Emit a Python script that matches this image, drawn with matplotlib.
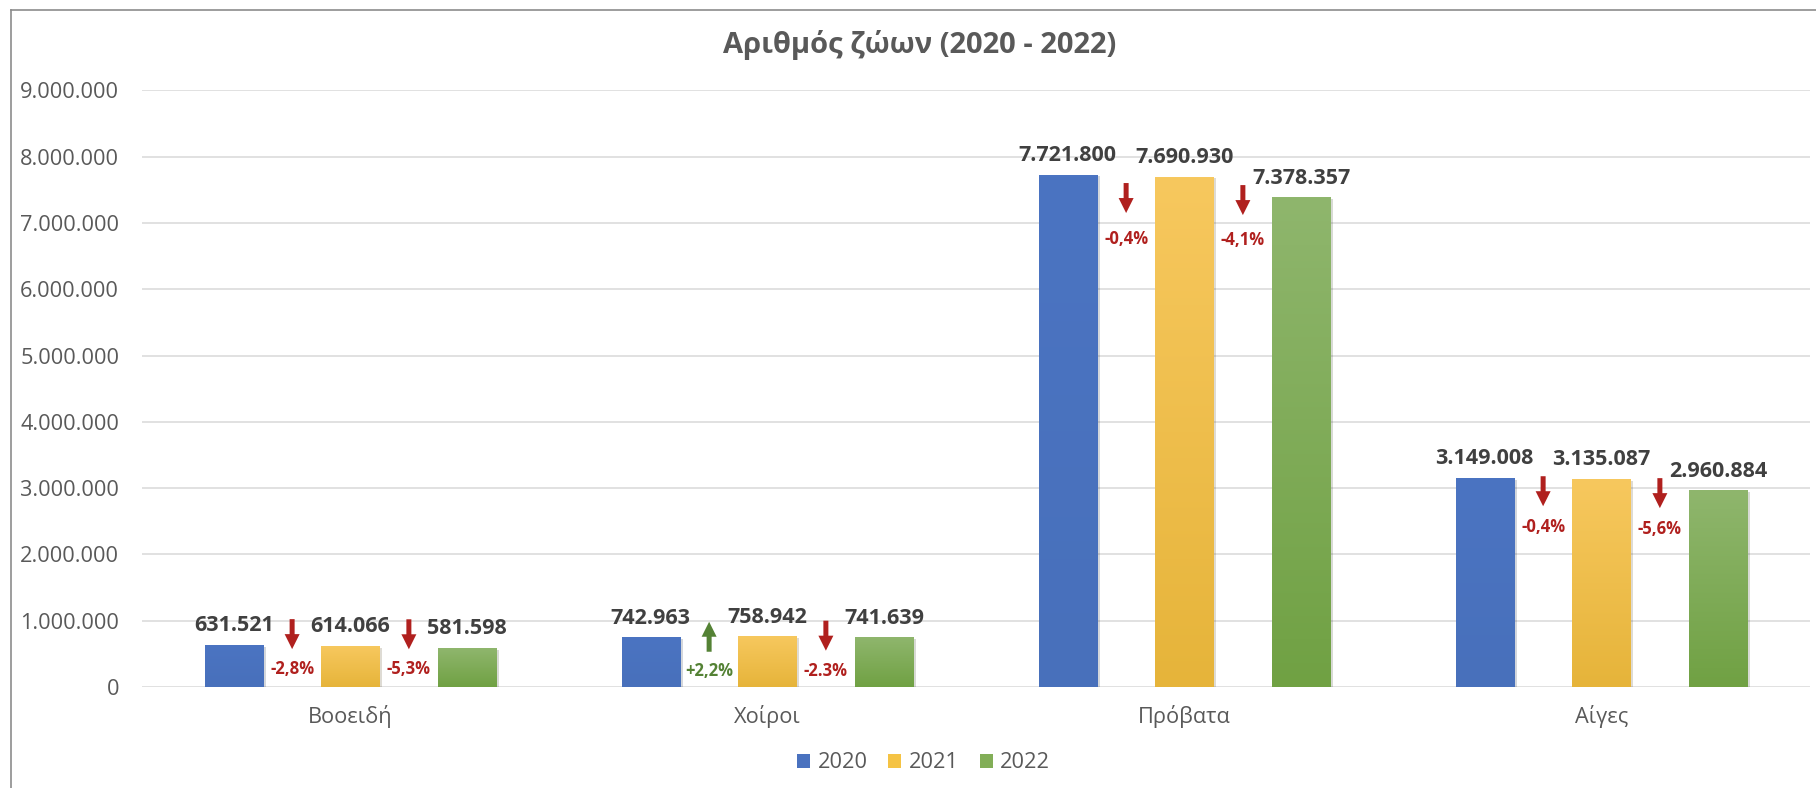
import numpy as np
import matplotlib
matplotlib.use("Agg")
import matplotlib.pyplot as plt
import matplotlib.patheffects as pe
from matplotlib.colors import LinearSegmentedColormap
from matplotlib.lines import Line2D
from matplotlib.patches import Patch
from matplotlib.transforms import offset_copy

plt.rcParams['font.family'] = ['Open Sans', 'DejaVu Sans']

# ----------------------------------------------------------------------
# data
# ----------------------------------------------------------------------
categories = ['Βοοειδή', 'Χοίροι', 'Πρόβατα', 'Αίγες']
years = ['2020', '2021', '2022']
v2020 = [631521, 742963, 7721800, 3149008]
v2021 = [614066, 758942, 7690930, 3135087]
v2022 = [581598, 741639, 7378357, 2960884]
# year-on-year changes as written on the chart
pct_2021 = ['-2,8%', '+2,2%', '-0,4%', '-0,4%']
pct_2022 = ['-5,3%', '-2.3%', '-4,1%', '-5,6%']

# hand placed annotation offsets (pixels below the earlier bar's top)
arrow_top_21 = [-26, -16, 8, -2]
arrow_top_22 = [-27, -16, 8, -1]
pct_off_21 = [23, 32, 63, 48]
pct_off_22 = [22, 33, 62, 49]

# ----------------------------------------------------------------------
# style
# ----------------------------------------------------------------------
TXT = '#595959'
LBL = '#404040'
GRID = '#D9D9D9'
RED = '#B0201E'
GREEN = '#548235'
bar_cols = ['#4A72BF', '#F5C344', '#82AE57']
grad_cols = [('#4B74C2', '#4870BB'), ('#F7C85E', '#E6B43A'), ('#8FB66D', '#70A143')]

W, H, DPI = 1816, 788, 100
fig = plt.figure(figsize=(W / DPI, H / DPI), dpi=DPI)
ax = fig.add_axes([142 / W, (H - 687) / H, (1810 - 142) / W, (687 - 90.3) / H])

x = np.arange(len(categories))
offs = [-0.28, 0.0, 0.28]
width = 0.14
series = [v2020, v2021, v2022]

for i, vals in enumerate(series):
    bars = ax.bar(x + offs[i], vals, width, color=bar_cols[i], zorder=3,
                  label=years[i],
                  path_effects=[pe.SimplePatchShadow(offset=(2, -1), alpha=0.18),
                                pe.Normal()])
    cmap = LinearSegmentedColormap.from_list('g%d' % i, [grad_cols[i][1], grad_cols[i][0]])
    for b in bars:
        x0 = b.get_x()
        h = b.get_height()
        grad = np.linspace(0, 1, 256).reshape(-1, 1)
        ax.imshow(grad, extent=(x0, x0 + width, 0, h), origin='lower',
                  aspect='auto', cmap=cmap, zorder=4)
    for xi, v in zip(x + offs[i], vals):
        ax.annotate(f"{v:,}".replace(',', '.'), (xi, v), xytext=(0, 14),
                    textcoords='offset pixels', ha='center', va='baseline',
                    fontsize=15.5, fontweight='bold', color=LBL, zorder=6)


# arrows + percentage change between neighbouring bars
def change_mark(xm, base, label, top, pct_off):
    col = GREEN if label.startswith('+') else RED
    t_top = offset_copy(ax.transData, fig=fig, x=0, y=-top, units='dots')
    t_bot = offset_copy(ax.transData, fig=fig, x=0, y=-(top + 30), units='dots')
    if label.startswith('+'):
        tip, tail = t_top, t_bot
    else:
        tip, tail = t_bot, t_top
    ax.annotate('', xy=(xm, base), xycoords=tip, xytext=(xm, base), textcoords=tail,
                arrowprops=dict(arrowstyle='simple,head_length=1.08,head_width=1.08,tail_width=0.36',
                                mutation_scale=10, shrinkA=0, shrinkB=0, color=col, lw=0),
                zorder=6)
    ax.annotate(label, (xm, base), xytext=(0, -(pct_off + 6)), textcoords='offset pixels',
                ha='center', va='baseline', fontsize=12, fontweight='bold', color=col,
                zorder=6)


for k in range(len(categories)):
    change_mark(x[k] + (offs[0] + offs[1]) / 2, v2020[k], pct_2021[k],
                arrow_top_21[k], pct_off_21[k])
    change_mark(x[k] + (offs[1] + offs[2]) / 2, v2021[k], pct_2022[k],
                arrow_top_22[k], pct_off_22[k])

ax.set_xlim(-0.5, len(categories) - 0.5)
ax.set_ylim(0, 9000000)
ax.set_yticks(np.arange(0, 9000001, 1000000))
ax.yaxis.set_major_formatter(plt.FuncFormatter(lambda v, p: f"{int(v):,}".replace(',', '.')))
ax.set_xticks(x)
ax.set_xticklabels(categories)
ax.tick_params(axis='y', length=0, pad=16.5, labelsize=15.7, labelcolor=TXT)
ax.tick_params(axis='x', length=0, pad=13, labelsize=15.7, labelcolor=TXT)
ax.grid(axis='y', color=GRID, lw=1.1, zorder=0)
ax.set_axisbelow(True)
for s in ax.spines.values():
    s.set_visible(False)

# title
fig.text(919.5 / W, 1 - 53.3 / H, 'Αριθμός ζώων (2020 - 2022)', ha='center',
         va='baseline', fontsize=21, fontweight='bold', color=TXT)

# legend
handles = [Patch(facecolor=c, edgecolor='none') for c in bar_cols]
fig.legend(handles, years, loc='center', bbox_to_anchor=(923.5 / W, 1 - 763 / H),
           ncol=3, frameon=False, fontsize=15.7, labelcolor=TXT,
           handlelength=0.6, handleheight=0.6, handletextpad=0.35, columnspacing=0.95)

# chart area border (cropped at right/bottom)
fig.add_artist(Line2D([11 / W, 11 / W], [0, 1 - 9.5 / H], color='#8C8C8C', lw=1.2))
fig.add_artist(Line2D([11 / W, 1], [1 - 9.5 / H, 1 - 9.5 / H], color='#8C8C8C', lw=1.2))

fig.savefig('out.png', dpi=DPI)
